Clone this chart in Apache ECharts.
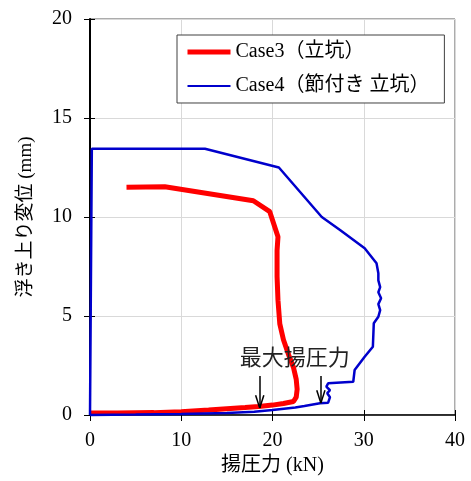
<!DOCTYPE html>
<html>
<head>
<meta charset="utf-8">
<script src="https://cdn.jsdelivr.net/npm/echarts@6/dist/echarts.min.js"></script>
<style>
  html, body { margin: 0; padding: 0; background: #fff; }
  #chart { width: 471px; height: 481px; }
</style>
</head>
<body>
<div id="chart"></div>
<script>
// Uplift force (kN) vs. uplift displacement (mm)
const xTicks = [0, 10, 20, 30, 40];
const yTicks = [0, 5, 10, 15, 20];

// Case3 (shaft)
const case3Force = [0, 3, 7, 10, 13, 15, 17, 18.5, 20, 21.2, 22.3, 22.6, 22.7, 22.6, 22.3, 21.8, 21.2, 20.8, 20.6, 20.5, 20.5, 20.6, 19.7, 17.9, 8.2, 4.0];
const case3Disp  = [0.1, 0.1, 0.12, 0.17, 0.25, 0.32, 0.38, 0.43, 0.5, 0.58, 0.68, 0.9, 1.3, 1.8, 2.4, 3.0, 3.8, 4.6, 5.8, 7.0, 8.3, 9.0, 10.27, 10.82, 11.53, 11.5];

// Case4 (shaft with knots)
const case4Force = [0, 5, 10, 15, 18, 20, 22.5, 23.5, 25.2, 26.1, 26.3, 26.0, 26.3, 25.9, 26.1, 28.85, 29.0, 30.1, 31.0, 31.1, 31.6, 31.8, 31.6, 31.9, 31.6, 31.8, 31.6, 31.6, 31.4, 30.1, 27.4, 25.4, 20.7, 12.6, 0.2, 0, 0];
const case4Disp  = [0, 0.02, 0.05, 0.1, 0.17, 0.25, 0.38, 0.45, 0.59, 0.62, 0.9, 1.1, 1.25, 1.43, 1.6, 1.68, 2.27, 2.94, 3.45, 4.63, 4.96, 5.3, 5.6, 5.9, 6.2, 6.46, 6.8, 7.16, 7.66, 8.42, 9.34, 10.0, 12.5, 13.45, 13.45, 13.45, 0];

// Maximum uplift force markers: [force, arrow top, arrow tip]
const peakArrows = [[18.6, 1.97, 0.35], [25.3, 1.97, 0.6]];
const peakLabel = '最大揚圧力';
const peakLabelAt = [22.45, 2.93];

const zip = (a, b) => a.map((v, i) => [v, b[i]]);

const serif = "'Liberation Serif', 'Noto Sans CJK JP', serif";

// Arrow shafts and open V heads
const arrowLines = [];
peakArrows.forEach(([x, top, tip]) => {
  arrowLines.push([{ coord: [x, top] }, { coord: [x, tip] }]);
  arrowLines.push([{ coord: [x - 0.45, tip + 0.65] }, { coord: [x, tip] }]);
  arrowLines.push([{ coord: [x + 0.45, tip + 0.65] }, { coord: [x, tip] }]);
});

const chart = echarts.init(document.getElementById('chart'), null, { renderer: 'canvas' });

chart.setOption({
  animation: false,
  backgroundColor: '#fff',
  grid: {
    show: true, borderColor: '#595959', borderWidth: 1,
    left: 90, right: 16, top: 19, bottom: 66,
    containLabel: false, outerBoundsMode: 'none'
  },
  legend: {
    left: 177, top: 35,
    orient: 'vertical',
    itemWidth: 43, itemHeight: 14, itemGap: 14,
    padding: [7, 15, 7, 8],
    borderColor: '#404040', borderWidth: 1,
    backgroundColor: '#fff',
    itemStyle: { opacity: 0 },
    textStyle: { fontFamily: serif, fontSize: 20, color: '#000' },
    data: [
      { name: 'Case3（立坑）', lineStyle: { width: 5 } },
      { name: 'Case4（節付き 立坑）', lineStyle: { width: 2 } }
    ]
  },
  xAxis: [{
    type: 'value', min: 0, max: 40, interval: 10,
    name: '揚圧力 (kN)', nameLocation: 'middle', nameGap: 40,
    nameTextStyle: { fontFamily: serif, fontSize: 20, color: '#000' },
    axisLine: { show: true, onZero: false, lineStyle: { color: '#000', width: 1.5 } },
    axisTick: { show: true, length: 6, lineStyle: { color: '#000' } },
    axisLabel: { fontFamily: serif, fontSize: 20, color: '#000', margin: 16,
      formatter: v => xTicks.includes(v) ? String(v) : '' },
    splitLine: { show: true, lineStyle: { color: '#d9d9d9', width: 1 } }
  }, {
    type: 'value', min: 0, max: 40, interval: 10, position: 'bottom',
    axisLine: { show: false }, axisLabel: { show: false }, splitLine: { show: false },
    axisTick: { show: true, inside: true, length: 5, lineStyle: { color: '#000' } }
  }],
  yAxis: [{
    type: 'value', min: 0, max: 20, interval: 5,
    name: '浮き上り変位 (mm)', nameLocation: 'middle', nameGap: 54,
    nameTextStyle: { fontFamily: serif, fontSize: 19, color: '#000' },
    axisLine: { show: true, onZero: false, lineStyle: { color: '#000', width: 2 } },
    axisTick: { show: true, length: 6, lineStyle: { color: '#000' } },
    axisLabel: { fontFamily: serif, fontSize: 20, color: '#000', margin: 18,
      formatter: v => yTicks.includes(v) ? String(v) : '' },
    splitLine: { show: true, lineStyle: { color: '#d9d9d9', width: 1 } }
  }, {
    type: 'value', min: 0, max: 20, interval: 5, position: 'left',
    axisLine: { show: false }, axisLabel: { show: false }, splitLine: { show: false },
    axisTick: { show: true, inside: true, length: 5, lineStyle: { color: '#000' } }
  }],
  series: [{
    name: 'Case3（立坑）',
    type: 'line',
    data: zip(case3Force, case3Disp),
    symbol: 'none',
    clip: false,
    lineStyle: { color: '#ff0000', width: 5 },
    itemStyle: { color: '#ff0000' },
    z: 3
  }, {
    name: 'Case4（節付き 立坑）',
    type: 'line',
    data: zip(case4Force, case4Disp),
    symbol: 'none',
    clip: false,
    lineStyle: { color: '#0000cc', width: 2.5 },
    itemStyle: { color: '#0000cc' },
    z: 4
  }, {
    name: 'annotation',
    type: 'line',
    data: [],
    silent: true,
    markLine: {
      silent: true,
      symbol: ['none', 'none'],
      label: { show: false },
      lineStyle: { color: '#000', width: 1.5, type: 'solid' },
      data: arrowLines
    },
    markPoint: {
      silent: true,
      symbol: 'circle', symbolSize: 0,
      label: {
        show: true, position: 'inside',
        formatter: peakLabel,
        fontFamily: "'Noto Sans CJK JP', sans-serif",
        fontSize: 22, color: '#222'
      },
      data: [{ coord: peakLabelAt }]
    },
    z: 5
  }]
});
</script>
</body>
</html>
